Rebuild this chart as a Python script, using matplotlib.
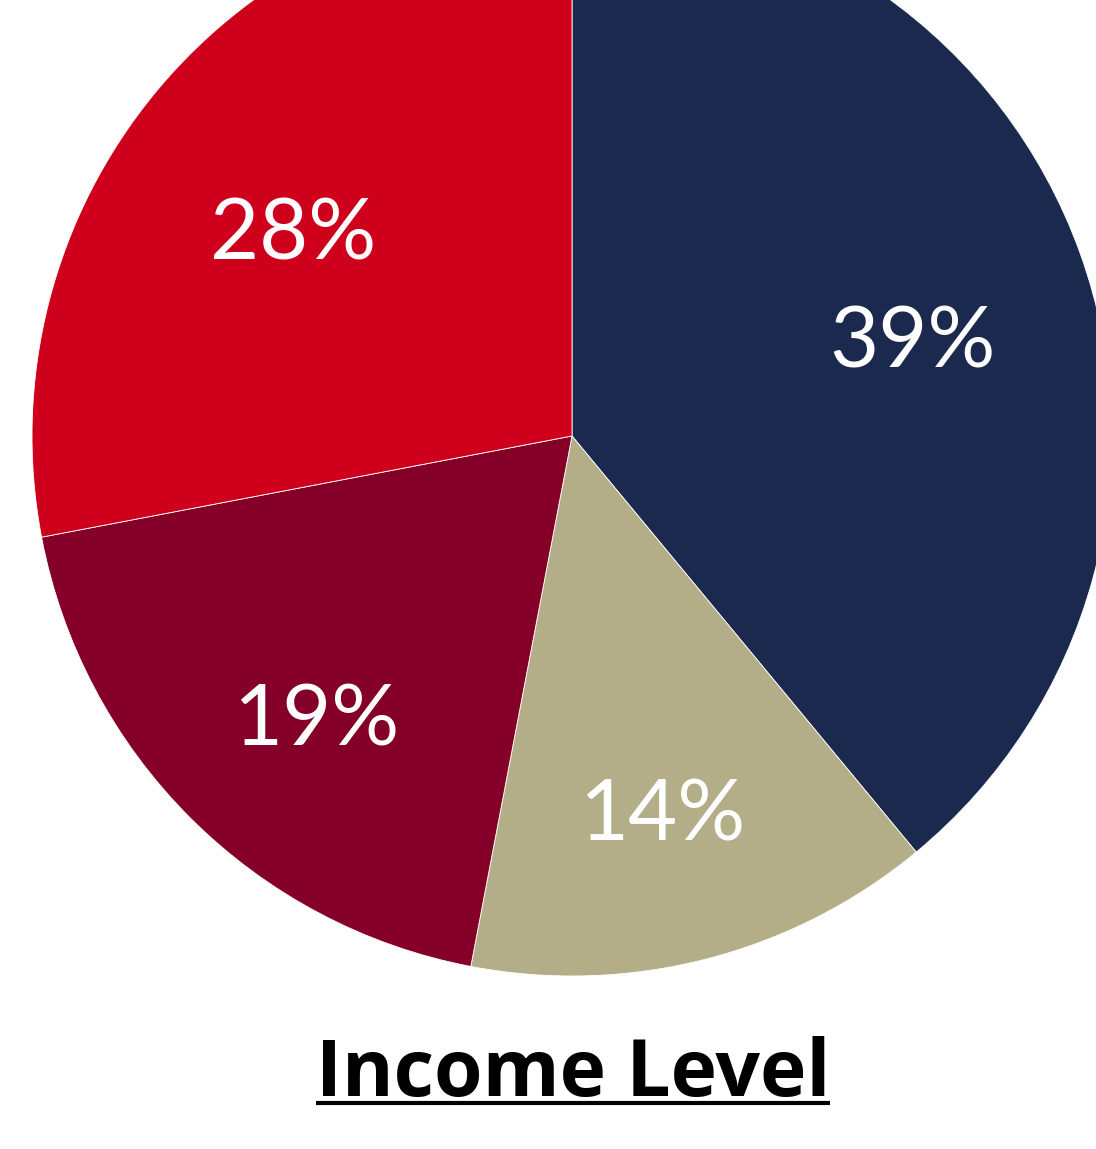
import matplotlib.pyplot as plt

labels = ["High", "Upper-middle", "Lower-middle", "Low"]
shares = [39, 14, 19, 28]
colors = ["#1B294F", "#B3AD88", "#850029", "#CF001C"]
title = "Income Level"

W, H = 1096, 1149
fig = plt.figure(figsize=(W / 100, H / 100), dpi=100)
ax = fig.add_axes([0, 0, 1, 1])

wedges, texts, autotexts = ax.pie(
    shares, colors=colors, startangle=90, counterclock=False,
    center=(572, 713), radius=540, autopct="%d%%", pctdistance=0.67,
    wedgeprops=dict(linewidth=0.6, edgecolor="white"),
    textprops=dict(color="white", fontsize=61, fontfamily="Lato"),
)
# labels sit a little lower than matplotlib's default placement
for at in autotexts:
    x, y = at.get_position()
    at.set_position((x, y - 30))

# pie() resets the limits, so set pixel-like limits afterwards
ax.set_xlim(0, W)
ax.set_ylim(0, H)
ax.set_aspect("equal")
ax.axis("off")

t = ax.text(573, 53, title, ha="center", va="baseline", fontsize=56.5,
            fontweight="bold", fontfamily="Open Sans", color="black")

# underline under the title
fig.canvas.draw()
bb = t.get_window_extent(fig.canvas.get_renderer())
ax.plot([bb.x0, bb.x1], [46, 46], color="black", linewidth=3.0,
        solid_capstyle="butt", clip_on=False)

fig.savefig("out.png", dpi=100)
plt.close(fig)
